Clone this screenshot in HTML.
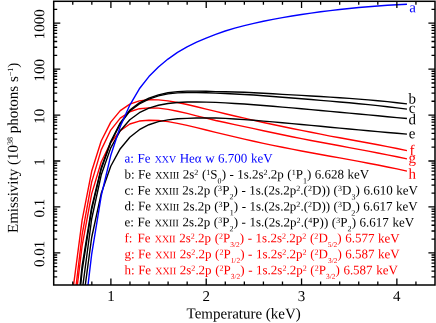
<!DOCTYPE html><html><head><meta charset="utf-8"><style>html,body{margin:0;padding:0;background:#fff}</style></head><body><div style="will-change:transform;width:436px;height:323px;overflow:hidden"><svg width="436" height="323" viewBox="0 0 436 323" style="display:block;font-family:&quot;Liberation Serif&quot;,serif">
<rect width="436" height="323" fill="#fff"/>
<defs><clipPath id="cp"><rect x="53.7" y="1.3" width="381.3" height="283.7"/></clipPath></defs>
<g clip-path="url(#cp)" fill="none" stroke-width="1.4" stroke-linejoin="round">
<path d="M63.04,474.99 L72.58,324.62 L82.12,245.76 L91.66,193.86 L101.20,161.99 L110.74,142.45 L120.28,130.70 L129.82,123.99 L139.36,121.06 L148.90,120.32 L158.44,120.55 L167.98,121.66 L177.52,123.37 L187.06,125.44 L196.60,127.68 L206.14,130.01 L215.68,132.35 L225.22,134.67 L234.76,136.92 L244.30,139.10 L253.84,141.23 L263.38,143.32 L272.92,145.34 L282.46,147.27 L292.00,149.14 L301.54,150.96 L311.08,152.73 L320.62,154.47 L330.16,156.20 L339.70,157.92 L349.24,159.65 L358.78,161.41 L368.32,163.20 L377.86,165.04 L387.40,166.94 L396.94,168.91 L406.96,171.07" stroke="#ff0000"/>
<path d="M63.04,469.54 L72.58,315.22 L82.12,234.73 L91.66,182.09 L101.20,149.84 L110.74,130.07 L120.28,118.18 L129.82,111.72 L139.36,108.68 L148.90,107.84 L158.44,108.14 L167.98,109.37 L177.52,111.20 L187.06,113.40 L196.60,115.81 L206.14,118.18 L215.68,120.49 L225.22,122.55 L234.76,124.57 L244.30,126.61 L253.84,128.57 L263.38,130.70 L272.92,132.78 L282.46,134.79 L292.00,136.73 L301.54,138.61 L311.08,140.45 L320.62,142.26 L330.16,144.04 L339.70,145.81 L349.24,147.58 L358.78,149.35 L368.32,151.16 L377.86,152.99 L387.40,154.87 L396.94,156.81 L406.96,158.91" stroke="#ff0000"/>
<path d="M63.04,429.69 L72.58,292.61 L82.12,220.11 L91.66,171.33 L101.20,140.98 L110.74,122.12 L120.28,110.63 L129.82,104.16 L139.36,100.88 L148.90,99.74 L158.44,99.83 L167.98,100.84 L177.52,102.46 L187.06,104.47 L196.60,106.71 L206.14,109.07 L215.68,111.41 L225.22,113.70 L234.76,115.96 L244.30,118.15 L253.84,120.31 L263.38,122.45 L272.92,124.52 L282.46,126.51 L292.00,128.45 L301.54,130.34 L311.08,132.28 L320.62,134.18 L330.16,136.07 L339.70,137.78 L349.24,139.49 L358.78,141.22 L368.32,142.98 L377.86,144.77 L387.40,146.62 L396.94,148.53 L406.96,150.62" stroke="#ff0000"/>
<path d="M63.04,671.21 L72.58,432.04 L82.12,308.65 L91.66,237.49 L101.20,193.60 L110.74,166.21 L120.28,148.68 L129.82,137.24 L139.36,129.69 L148.90,124.71 L158.44,121.67 L167.98,119.83 L177.52,118.81 L187.06,118.39 L196.60,118.06 L206.14,117.89 L215.68,117.96 L225.22,118.39 L234.76,118.94 L244.30,119.59 L253.84,120.31 L263.38,121.09 L272.92,121.91 L282.46,122.76 L292.00,123.63 L301.54,124.52 L311.08,125.42 L320.62,126.32 L330.16,127.22 L339.70,128.12 L349.24,129.02 L358.78,129.90 L368.32,130.78 L377.86,131.64 L387.40,132.48 L396.94,133.31 L406.96,134.16" stroke="#000"/>
<path d="M63.04,663.66 L72.58,417.31 L82.12,291.11 L91.66,219.01 L101.20,175.01 L110.74,147.89 L120.28,130.75 L129.82,119.74 L139.36,112.71 L148.90,108.19 L158.44,105.28 L167.98,103.49 L177.52,102.48 L187.06,102.00 L196.60,101.91 L206.14,102.08 L215.68,102.42 L225.22,102.87 L234.76,103.43 L244.30,104.07 L253.84,104.76 L263.38,105.51 L272.92,106.29 L282.46,107.10 L292.00,107.92 L301.54,108.77 L311.08,109.62 L320.62,110.49 L330.16,111.37 L339.70,112.25 L349.24,113.13 L358.78,114.02 L368.32,114.91 L377.86,115.80 L387.40,116.69 L396.94,117.58 L406.96,118.51" stroke="#000"/>
<path d="M63.04,537.49 L72.58,367.18 L82.12,270.60 L91.66,209.64 L101.20,169.15 L110.74,142.45 L120.28,123.83 L129.82,110.98 L139.36,103.85 L148.90,99.16 L158.44,95.91 L167.98,93.92 L177.52,92.85 L187.06,92.43 L196.60,92.44 L206.14,92.72 L215.68,93.17 L225.22,93.52 L234.76,93.96 L244.30,94.46 L253.84,95.07 L263.38,95.80 L272.92,96.55 L282.46,97.29 L292.00,98.04 L301.54,98.80 L311.08,99.56 L320.62,100.34 L330.16,101.14 L339.70,101.96 L349.24,102.82 L358.78,103.71 L368.32,104.65 L377.86,105.65 L387.40,106.71 L396.94,107.83 L406.96,109.10" stroke="#000"/>
<path d="M63.04,512.10 L72.58,356.47 L82.12,265.84 L91.66,207.32 L101.20,167.81 L110.74,141.46 L120.28,122.93 L129.82,110.08 L139.36,102.91 L148.90,98.16 L158.44,94.84 L167.98,92.80 L177.52,91.67 L187.06,91.16 L196.60,91.09 L206.14,91.26 L215.68,91.58 L225.22,91.76 L234.76,92.02 L244.30,92.32 L253.84,92.72 L263.38,93.26 L272.92,93.79 L282.46,94.33 L292.00,94.86 L301.54,95.39 L311.08,95.94 L320.62,96.50 L330.16,97.08 L339.70,97.70 L349.24,98.36 L358.78,99.08 L368.32,99.86 L377.86,100.71 L387.40,101.65 L396.94,102.68 L406.96,103.87" stroke="#000"/>
<path d="M63.04,711.77 L72.58,471.65 L82.12,334.76 L91.66,254.33 L101.20,196.03 L110.74,155.55 L120.28,126.53 L129.82,105.08 L139.36,88.80 L148.90,76.59 L158.44,67.03 L167.98,59.05 L177.52,52.44 L187.06,46.92 L196.60,42.22 L206.14,38.04 L215.68,34.30 L225.22,30.98 L234.76,28.09 L244.30,25.59 L253.84,23.32 L263.38,21.26 L272.92,19.38 L282.46,17.66 L292.00,16.06 L301.54,14.52 L311.08,13.10 L320.62,11.79 L330.16,10.59 L339.70,9.50 L349.24,8.50 L358.78,7.56 L368.32,6.71 L377.86,5.96 L387.40,5.30 L396.94,4.74 L406.96,4.25" stroke="#0000ff"/>
</g>
<path d="M72.77,285.0v-3.5M72.77,1.3v3.5M91.83,285.0v-3.5M91.83,1.3v3.5M110.90,285.0v-6.6M110.90,1.3v6.6M129.96,285.0v-3.5M129.96,1.3v3.5M149.02,285.0v-3.5M149.02,1.3v3.5M168.09,285.0v-3.5M168.09,1.3v3.5M187.16,285.0v-3.5M187.16,1.3v3.5M206.22,285.0v-6.6M206.22,1.3v6.6M225.29,285.0v-3.5M225.29,1.3v3.5M244.35,285.0v-3.5M244.35,1.3v3.5M263.42,285.0v-3.5M263.42,1.3v3.5M282.48,285.0v-3.5M282.48,1.3v3.5M301.55,285.0v-6.6M301.55,1.3v6.6M320.61,285.0v-3.5M320.61,1.3v3.5M339.68,285.0v-3.5M339.68,1.3v3.5M358.74,285.0v-3.5M358.74,1.3v3.5M377.81,285.0v-3.5M377.81,1.3v3.5M396.87,285.0v-6.6M396.87,1.3v6.6M415.94,285.0v-3.5M415.94,1.3v3.5M53.7,276.91h3.5M435.0,276.91h-3.5M53.7,271.17h3.5M435.0,271.17h-3.5M53.7,266.72h3.5M435.0,266.72h-3.5M53.7,263.08h3.5M435.0,263.08h-3.5M53.7,260.01h3.5M435.0,260.01h-3.5M53.7,257.34h3.5M435.0,257.34h-3.5M53.7,254.99h3.5M435.0,254.99h-3.5M53.7,252.89h6.6M435.0,252.89h-6.6M53.7,239.06h3.5M435.0,239.06h-3.5M53.7,230.98h3.5M435.0,230.98h-3.5M53.7,225.24h3.5M435.0,225.24h-3.5M53.7,220.79h3.5M435.0,220.79h-3.5M53.7,217.15h3.5M435.0,217.15h-3.5M53.7,214.07h3.5M435.0,214.07h-3.5M53.7,211.41h3.5M435.0,211.41h-3.5M53.7,209.06h3.5M435.0,209.06h-3.5M53.7,206.96h6.6M435.0,206.96h-6.6M53.7,193.13h3.5M435.0,193.13h-3.5M53.7,185.04h3.5M435.0,185.04h-3.5M53.7,179.30h3.5M435.0,179.30h-3.5M53.7,174.85h3.5M435.0,174.85h-3.5M53.7,171.21h3.5M435.0,171.21h-3.5M53.7,168.14h3.5M435.0,168.14h-3.5M53.7,165.47h3.5M435.0,165.47h-3.5M53.7,163.12h3.5M435.0,163.12h-3.5M53.7,161.02h6.6M435.0,161.02h-6.6M53.7,147.19h3.5M435.0,147.19h-3.5M53.7,139.11h3.5M435.0,139.11h-3.5M53.7,133.37h3.5M435.0,133.37h-3.5M53.7,128.91h3.5M435.0,128.91h-3.5M53.7,125.28h3.5M435.0,125.28h-3.5M53.7,122.20h3.5M435.0,122.20h-3.5M53.7,119.54h3.5M435.0,119.54h-3.5M53.7,117.19h3.5M435.0,117.19h-3.5M53.7,115.09h6.6M435.0,115.09h-6.6M53.7,101.26h3.5M435.0,101.26h-3.5M53.7,93.17h3.5M435.0,93.17h-3.5M53.7,87.43h3.5M435.0,87.43h-3.5M53.7,82.98h3.5M435.0,82.98h-3.5M53.7,79.34h3.5M435.0,79.34h-3.5M53.7,76.27h3.5M435.0,76.27h-3.5M53.7,73.60h3.5M435.0,73.60h-3.5M53.7,71.25h3.5M435.0,71.25h-3.5M53.7,69.15h6.6M435.0,69.15h-6.6M53.7,55.32h3.5M435.0,55.32h-3.5M53.7,47.24h3.5M435.0,47.24h-3.5M53.7,41.50h3.5M435.0,41.50h-3.5M53.7,37.04h3.5M435.0,37.04h-3.5M53.7,33.41h3.5M435.0,33.41h-3.5M53.7,30.33h3.5M435.0,30.33h-3.5M53.7,27.67h3.5M435.0,27.67h-3.5M53.7,25.32h3.5M435.0,25.32h-3.5M53.7,23.22h6.6M435.0,23.22h-6.6M53.7,9.39h3.5M435.0,9.39h-3.5" stroke="#000" stroke-width="1.3" fill="none"/>
<rect x="53.7" y="1.3" width="381.3" height="283.7" fill="none" stroke="#000" stroke-width="1.5"/>
<text transform="translate(110.90,301) rotate(0.03)" font-size="15" text-anchor="middle">1</text>
<text transform="translate(206.22,301) rotate(0.03)" font-size="15" text-anchor="middle">2</text>
<text transform="translate(301.55,301) rotate(0.03)" font-size="15" text-anchor="middle">3</text>
<text transform="translate(396.87,301) rotate(0.03)" font-size="15" text-anchor="middle">4</text>
<text transform="translate(44.2,24.32) rotate(-89.97)" font-size="15" text-anchor="middle">1000</text>
<text transform="translate(44.2,70.25) rotate(-89.97)" font-size="15" text-anchor="middle">100</text>
<text transform="translate(44.2,116.19) rotate(-89.97)" font-size="15" text-anchor="middle">10</text>
<text transform="translate(44.2,162.12) rotate(-89.97)" font-size="15" text-anchor="middle">1</text>
<text transform="translate(44.2,208.06) rotate(-89.97)" font-size="15" text-anchor="middle">0.1</text>
<text transform="translate(44.2,253.99) rotate(-89.97)" font-size="15" text-anchor="middle">0.01</text>
<text transform="translate(243.7,318.4) rotate(0.03)" font-size="15" text-anchor="middle">Temperature (keV)</text>
<text transform="translate(17.8,233) rotate(-89.97)" font-size="15">Emissivity (10<tspan font-size="8" dy="-5">38</tspan><tspan dy="5"> photons s</tspan><tspan font-size="8" dy="-5">−1</tspan><tspan dy="5">)</tspan></text>
<text transform="translate(409.3,12.3) rotate(0.03)" font-size="15" fill="#0000ff">a</text>
<text transform="translate(408.6,103.5) rotate(0.03)" font-size="15" fill="#000">b</text>
<text transform="translate(408.8,112.8) rotate(0.03)" font-size="15" fill="#000">c</text>
<text transform="translate(408.6,124.3) rotate(0.03)" font-size="15" fill="#000">d</text>
<text transform="translate(408.8,138.2) rotate(0.03)" font-size="15" fill="#000">e</text>
<text transform="translate(409.5,155.3) rotate(0.03)" font-size="15" fill="#ff0000">f</text>
<text transform="translate(408.6,162.7) rotate(0.03)" font-size="15" fill="#ff0000">g</text>
<text transform="translate(408.6,178.8) rotate(0.03)" font-size="15" fill="#ff0000">h</text>
<text id="La" transform="translate(124.5,162.50) rotate(0.03)" font-size="13.0" word-spacing="0.3" letter-spacing="0" fill="#0000ff">a: Fe <tspan font-size="9.9" dx="0.7">XXV</tspan> Heα w 6.700 keV</text>
<text id="Lb" transform="translate(124.5,178.45) rotate(0.03)" font-size="13.0" word-spacing="0.3" letter-spacing="-0.025" fill="#000">b: Fe <tspan font-size="9.9" dx="0.7">XXIII</tspan> 2s<tspan font-size="8.0" dy="-3.5" dx="0">2</tspan><tspan dy="3.5" dx="0.1" font-size="13.0">​</tspan> (<tspan font-size="8.0" dy="-3.5" dx="0">1</tspan><tspan dy="3.5" dx="0.1" font-size="13.0">​</tspan>S<tspan font-size="8.0" dy="4.9" dx="0">0</tspan><tspan dy="-4.9" dx="0.1" font-size="13.0">​</tspan>) - 1s.2s<tspan font-size="8.0" dy="-3.5" dx="0">2</tspan><tspan dy="3.5" dx="0.1" font-size="13.0">​</tspan>.2p (<tspan font-size="8.0" dy="-3.5" dx="0">1</tspan><tspan dy="3.5" dx="0.1" font-size="13.0">​</tspan>P<tspan font-size="8.0" dy="4.9" dx="0">1</tspan><tspan dy="-4.9" dx="0.1" font-size="13.0">​</tspan>) 6.628 keV</text>
<text id="Lc" transform="translate(124.5,194.40) rotate(0.03)" font-size="13.0" word-spacing="0.3" letter-spacing="0" fill="#000">c: Fe <tspan font-size="9.9" dx="0.7">XXIII</tspan> 2s.2p (<tspan font-size="8.0" dy="-3.5" dx="0">3</tspan><tspan dy="3.5" dx="0.1" font-size="13.0">​</tspan>P<tspan font-size="8.0" dy="4.9" dx="0">2</tspan><tspan dy="-4.9" dx="0.1" font-size="13.0">​</tspan>) - 1s.(2s.2p<tspan font-size="8.0" dy="-3.5" dx="0">2</tspan><tspan dy="3.5" dx="0.1" font-size="13.0">​</tspan>.(<tspan font-size="8.0" dy="-3.5" dx="0">2</tspan><tspan dy="3.5" dx="0.1" font-size="13.0">​</tspan>D)) (<tspan font-size="8.0" dy="-3.5" dx="0">3</tspan><tspan dy="3.5" dx="0.1" font-size="13.0">​</tspan>D<tspan font-size="8.0" dy="4.9" dx="0">3</tspan><tspan dy="-4.9" dx="0.1" font-size="13.0">​</tspan>) 6.610 keV</text>
<text id="Ld" transform="translate(124.5,210.35) rotate(0.03)" font-size="13.0" word-spacing="0.3" letter-spacing="-0.017" fill="#000">d: Fe <tspan font-size="9.9" dx="0.7">XXIII</tspan> 2s.2p (<tspan font-size="8.0" dy="-3.5" dx="0">3</tspan><tspan dy="3.5" dx="0.1" font-size="13.0">​</tspan>P<tspan font-size="8.0" dy="4.9" dx="0">1</tspan><tspan dy="-4.9" dx="0.1" font-size="13.0">​</tspan>) - 1s.(2s.2p<tspan font-size="8.0" dy="-3.5" dx="0">2</tspan><tspan dy="3.5" dx="0.1" font-size="13.0">​</tspan>.(<tspan font-size="8.0" dy="-3.5" dx="0">2</tspan><tspan dy="3.5" dx="0.1" font-size="13.0">​</tspan>D)) (<tspan font-size="8.0" dy="-3.5" dx="0">3</tspan><tspan dy="3.5" dx="0.1" font-size="13.0">​</tspan>D<tspan font-size="8.0" dy="4.9" dx="0">2</tspan><tspan dy="-4.9" dx="0.1" font-size="13.0">​</tspan>) 6.617 keV</text>
<text id="Le" transform="translate(124.5,226.30) rotate(0.03)" font-size="13.0" word-spacing="0.3" letter-spacing="0.008" fill="#000">e: Fe <tspan font-size="9.9" dx="0.7">XXIII</tspan> 2s.2p (<tspan font-size="8.0" dy="-3.5" dx="0">3</tspan><tspan dy="3.5" dx="0.1" font-size="13.0">​</tspan>P<tspan font-size="8.0" dy="4.9" dx="0">2</tspan><tspan dy="-4.9" dx="0.1" font-size="13.0">​</tspan>) - 1s.(2s.2p<tspan font-size="8.0" dy="-3.5" dx="0">2</tspan><tspan dy="3.5" dx="0.1" font-size="13.0">​</tspan>.(<tspan font-size="8.0" dy="-3.5" dx="0">4</tspan><tspan dy="3.5" dx="0.1" font-size="13.0">​</tspan>P)) (<tspan font-size="8.0" dy="-3.5" dx="0">3</tspan><tspan dy="3.5" dx="0.1" font-size="13.0">​</tspan>P<tspan font-size="8.0" dy="4.9" dx="0">2</tspan><tspan dy="-4.9" dx="0.1" font-size="13.0">​</tspan>) 6.617 keV</text>
<text id="Lf" transform="translate(124.5,242.25) rotate(0.03)" font-size="13.0" word-spacing="0.3" letter-spacing="0" fill="#ff0000">f:<tspan dx="1.5"> </tspan>Fe <tspan font-size="9.9" dx="0.7">XXII</tspan> 2s<tspan font-size="8.0" dy="-3.5" dx="0">2</tspan><tspan dy="3.5" dx="0.1" font-size="13.0">​</tspan>.2p (<tspan font-size="8.0" dy="-3.5" dx="0">2</tspan><tspan dy="3.5" dx="0.1" font-size="13.0">​</tspan>P<tspan font-size="7.4" dy="4.6" dx="0">3/2</tspan><tspan dy="-4.6" dx="0.1" font-size="13.0">​</tspan>) - 1s.2s<tspan font-size="8.0" dy="-3.5" dx="0">2</tspan><tspan dy="3.5" dx="0.1" font-size="13.0">​</tspan>.2p<tspan font-size="8.0" dy="-3.5" dx="0">2</tspan><tspan dy="3.5" dx="0.1" font-size="13.0">​</tspan> (<tspan font-size="8.0" dy="-3.5" dx="0">2</tspan><tspan dy="3.5" dx="0.1" font-size="13.0">​</tspan>D<tspan font-size="7.4" dy="4.6" dx="0">5/2</tspan><tspan dy="-4.6" dx="0.1" font-size="13.0">​</tspan>) 6.577 keV</text>
<text id="Lg" transform="translate(124.5,258.20) rotate(0.03)" font-size="13.0" word-spacing="0.3" letter-spacing="-0.014" fill="#ff0000">g: Fe <tspan font-size="9.9" dx="0.7">XXII</tspan> 2s<tspan font-size="8.0" dy="-3.5" dx="0">2</tspan><tspan dy="3.5" dx="0.1" font-size="13.0">​</tspan>.2p (<tspan font-size="8.0" dy="-3.5" dx="0">2</tspan><tspan dy="3.5" dx="0.1" font-size="13.0">​</tspan>P<tspan font-size="7.4" dy="4.6" dx="0">1/2</tspan><tspan dy="-4.6" dx="0.1" font-size="13.0">​</tspan>) - 1s.2s<tspan font-size="8.0" dy="-3.5" dx="0">2</tspan><tspan dy="3.5" dx="0.1" font-size="13.0">​</tspan>.2p<tspan font-size="8.0" dy="-3.5" dx="0">2</tspan><tspan dy="3.5" dx="0.1" font-size="13.0">​</tspan> (<tspan font-size="8.0" dy="-3.5" dx="0">2</tspan><tspan dy="3.5" dx="0.1" font-size="13.0">​</tspan>D<tspan font-size="7.4" dy="4.6" dx="0">3/2</tspan><tspan dy="-4.6" dx="0.1" font-size="13.0">​</tspan>) 6.587 keV</text>
<text id="Lh" transform="translate(124.5,274.15) rotate(0.03)" font-size="13.0" word-spacing="0.3" letter-spacing="-0.009" fill="#ff0000">h: Fe <tspan font-size="9.9" dx="0.7">XXII</tspan> 2s<tspan font-size="8.0" dy="-3.5" dx="0">2</tspan><tspan dy="3.5" dx="0.1" font-size="13.0">​</tspan>.2p (<tspan font-size="8.0" dy="-3.5" dx="0">2</tspan><tspan dy="3.5" dx="0.1" font-size="13.0">​</tspan>P<tspan font-size="7.4" dy="4.6" dx="0">3/2</tspan><tspan dy="-4.6" dx="0.1" font-size="13.0">​</tspan>) - 1s.2s<tspan font-size="8.0" dy="-3.5" dx="0">2</tspan><tspan dy="3.5" dx="0.1" font-size="13.0">​</tspan>.2p<tspan font-size="8.0" dy="-3.5" dx="0">2</tspan><tspan dy="3.5" dx="0.1" font-size="13.0">​</tspan> (<tspan font-size="8.0" dy="-3.5" dx="0">2</tspan><tspan dy="3.5" dx="0.1" font-size="13.0">​</tspan>P<tspan font-size="7.4" dy="4.6" dx="0">3/2</tspan><tspan dy="-4.6" dx="0.1" font-size="13.0">​</tspan>) 6.587 keV</text>
</svg></div></body></html>
